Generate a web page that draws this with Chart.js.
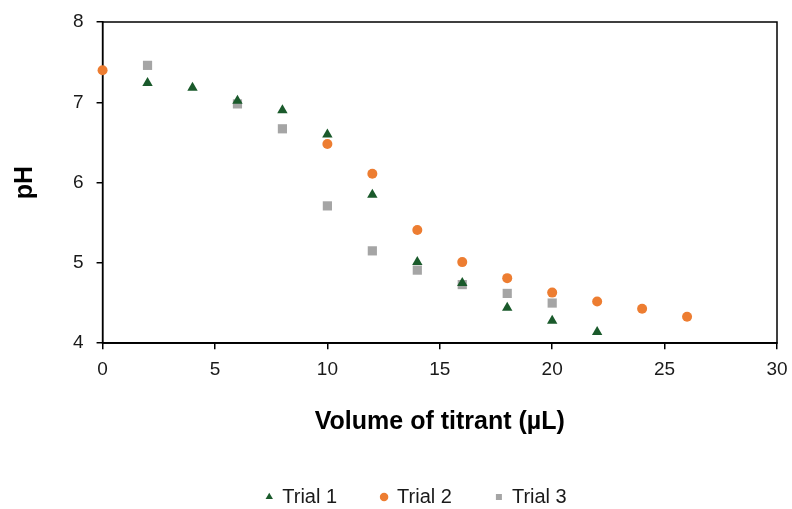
<!DOCTYPE html>
<html>
<head>
<meta charset="utf-8">
<script src="https://cdn.jsdelivr.net/npm/chart.js@4.4.0/dist/chart.umd.min.js"></script>
<style>
html,body{margin:0;padding:0;background:#fff;}
#wrap{width:792px;height:509px;}
</style>
</head>
<body>
<div id="wrap"><canvas id="c" width="792" height="509"></canvas></div>
<script>
const trial1X = [2, 4, 6, 8, 10, 12, 14, 16, 18, 20, 22];
const trial1Y = [7.24, 7.18, 7.02, 6.90, 6.60, 5.85, 5.01, 4.75, 4.44, 4.28, 4.14];
const trial2X = [0, 10, 12, 14, 16, 18, 20, 22, 24, 26];
const trial2Y = [7.40, 6.48, 6.11, 5.41, 5.01, 4.81, 4.63, 4.52, 4.43, 4.33];
const trial3X = [2, 6, 8, 10, 12, 14, 16, 18, 20];
const trial3Y = [7.46, 6.98, 6.67, 5.71, 5.15, 4.91, 4.73, 4.62, 4.50];
const xTicks = [0, 5, 10, 15, 20, 25, 30];
const yTicks = [4, 5, 6, 7, 8];

const pts = (xs, ys) => xs.map((x, i) => ({x: x, y: ys[i]}));
const FONT = 'Liberation Sans, Arial, sans-serif';

const frame = {
  id: 'frame',
  beforeDatasetsDraw(chart) {
    const a = chart.chartArea, ctx = chart.ctx;
    ctx.save();
    ctx.strokeStyle = '#000';
    ctx.lineWidth = 1.5;
    ctx.strokeRect(a.left, a.top, a.right - a.left, a.bottom - a.top);
    ctx.restore();
  }
};
const legendShift = {
  id: 'legendShift',
  afterLayout(chart) {
    const l = chart.legend;
    if (l) { l.left += 28; l.right += 28; }
  }
};

new Chart(document.getElementById('c'), {
  type: 'scatter',
  data: {
    datasets: [
      {label: 'Trial 1', data: pts(trial1X, trial1Y), pointStyle: 'triangle', pointRadius: 6,
       backgroundColor: '#1a5a2b', borderColor: '#1a5a2b', borderWidth: 0},
      {label: 'Trial 2', data: pts(trial2X, trial2Y), pointStyle: 'circle', pointRadius: 5,
       backgroundColor: '#ed7d31', borderColor: '#ed7d31', borderWidth: 0},
      {label: 'Trial 3', data: pts(trial3X, trial3Y), pointStyle: 'rect', pointRadius: 6.5,
       backgroundColor: '#a5a5a5', borderColor: '#a5a5a5', borderWidth: 0}
    ]
  },
  options: {
    responsive: false,
    animation: false,
    clip: false,
    layout: {padding: {left: 0, right: 15, top: 22, bottom: -8}},
    scales: {
      x: {
        type: 'linear', min: 0, max: 30,
        afterBuildTicks: (ax) => { ax.ticks = xTicks.map(v => ({value: v})); },
        afterFit: (s) => { s.paddingLeft = 0; s.paddingRight = 0; },
        grid: {display: true, drawOnChartArea: false, drawTicks: true, tickLength: 6, color: '#000', lineWidth: 1.5},
        border: {display: true, color: '#000', width: 1.5},
        ticks: {color: '#1a1a1a', font: {family: FONT, size: 19}, padding: 9, maxRotation: 0},
        title: {display: true, text: 'Volume of titrant (µL)', color: '#000',
                font: {family: FONT, size: 25, weight: 'bold'}, padding: {top: 17, bottom: 6}}
      },
      y: {
        type: 'linear', min: 4, max: 8,
        afterBuildTicks: (ax) => { ax.ticks = yTicks.map(v => ({value: v})); },
        afterFit: (s) => { s.paddingTop = 0; s.paddingBottom = 0; },
        grid: {display: true, drawOnChartArea: false, drawTicks: true, tickLength: 6, color: '#000', lineWidth: 1.5},
        border: {display: true, color: '#000', width: 1.5},
        ticks: {color: '#1a1a1a', font: {family: FONT, size: 19}, padding: 13},
        title: {display: true, text: 'pH', color: '#000',
                font: {family: FONT, size: 25, weight: 'bold'}, padding: {top: 10, bottom: 20}}
      }
    },
    plugins: {
      legend: {
        position: 'bottom',
        labels: {
          usePointStyle: true, boxHeight: 6, boxWidth: 6, padding: 44,
          color: '#1a1a1a', font: {family: FONT, size: 20}
        }
      },
      tooltip: {enabled: false}
    }
  },
  plugins: [frame, legendShift]
});
</script>
</body>
</html>
